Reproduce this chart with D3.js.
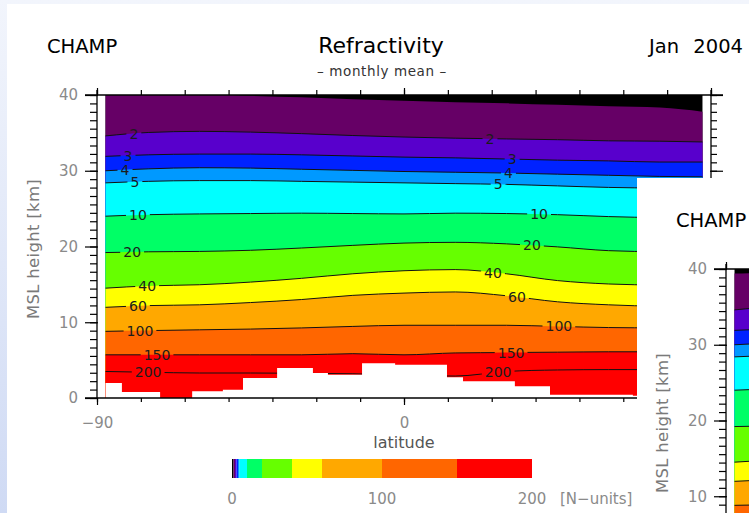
<!DOCTYPE html>
<html>
<head>
<meta charset="utf-8">
<script src="https://cdn.jsdelivr.net/npm/d3@7"></script>
<style>
  body { margin: 0; }
  svg { display: block; font-family: "DejaVu Sans", sans-serif; }
</style>
</head>
<body>
<div id="chart"></div>
<script>

// latitude grid of the contour heights
var latitudes = [-87.5, -75, -60, -45, -30, -15, 0, 15, 30, 45, 60, 75, 87.5];

// height [km] of each refractivity isoline (N-units) along the latitudes
var km1   = [40.6, 40.5, 40.2, 39.9, 39.7, 39.45, 39.25, 39.05, 38.9, 38.7, 38.5, 38.35, 37.8];
var km2   = [34.6, 35.05, 35.2, 35.1, 34.9, 34.65, 34.45, 34.3, 34.2, 34.1, 33.95, 33.9, 33.8];
var km3   = [31.9, 32.1, 32.2, 32.2, 32.1, 31.95, 31.8, 31.7, 31.55, 31.4, 31.3, 31.15, 31.15];
var km4   = [30.0, 30.25, 30.4, 30.35, 30.2, 30.05, 29.9, 29.8, 29.7, 29.55, 29.4, 29.25, 29.2];
var km5   = [28.4, 28.6, 28.7, 28.7, 28.6, 28.5, 28.4, 28.3, 28.2, 28.0, 27.8, 27.7, 27.6];
var km10  = [24.0, 24.2, 24.3, 24.35, 24.4, 24.35, 24.3, 24.4, 24.35, 24.2, 23.95, 23.8, 23.7];
var km20  = [19.2, 19.3, 19.35, 19.5, 19.8, 20.15, 20.45, 20.55, 20.35, 19.95, 19.45, 19.3, 19.2];
var km40  = [14.5, 14.8, 14.95, 15.3, 15.8, 16.4, 16.8, 16.95, 16.4, 15.5, 15.05, 14.9, 14.8];
var km60  = [11.97, 12.2, 12.3, 12.6, 13.0, 13.55, 13.85, 14.0, 13.5, 12.7, 12.3, 12.1, 12.0];
var km100 = [8.8, 8.9, 9.0, 9.1, 9.25, 9.45, 9.6, 9.6, 9.6, 9.45, 9.3, 9.25, 9.2];
var km150 = [5.7, 5.7, 5.7, 5.7, 5.7, 5.85, 5.7, 5.95, 6.0, 6.05, 6.1, 6.1, 6.1];
var km200 = [3.5, 3.4, 3.3, 3.3, 3.25, 3.2, 3.0, 2.9, 3.5, 3.7, 3.75, 3.75, 3.75];

// second (overlapping) figure, only its top isoline differs in the visible part
var km1B  = [39.4, 39.5, 39.6, 39.7, 39.6, 39.4, 39.2, 39.0, 38.8, 38.6, 38.4, 38.2, 37.8];

var levels     = [1, 2, 3, 4, 5, 10, 20, 40, 60, 100, 150, 200];
var labelLatS  = [null, -79.2, -80.9, -81.8, -78.9, -78, -79.7, -75.3, -78, -77.4, -72.4, -75];
var labelLatN  = [null, 25.2, 31.7, 30.6, 27.6, 39.6, 37.5, 26.1, 33.1, 45.4, 31.4, 27.6];

// colour classes (N-units)
var bandStops  = [0, 1, 2, 3, 4, 5, 10, 20, 40, 60, 100, 150, 200];
var bandColors = ["#000000", "#660066", "#5800cc", "#0022ff", "#0099ff", "#00ffff",
                  "#00ff66", "#66ff00", "#ffff00", "#ffa800", "#ff6600", "#ff0000"];

// lower edge of valid data (white below), stepwise
var surfaceLat = [-87.5, -82.7, -71.5, -62.1, -53.1, -47.2, -37.2, -26.7, -22.3, -12.3, -2.6, 12.6, 17.3, 32.5, 42.8, 67.1, 87.5];
var surfaceKm  = [1.98, 0.8, 0, 0.88, 1.1, 2.64, 3.96, 3.3, 3.08, 4.6, 4.4, 2.73, 2.2, 1.54, 0.44, 0.3, 0.3];

var yMajor = [0, 10, 20, 30, 40],
    yMajorB = [10, 20, 30, 40],
    xMajor = [-90, 0, 90],
    xLabels = ["\u221290", "0", ""],
    cbTicks = [0, 100, 200];

var width = 749, height = 513;

var x = d3.scaleLinear().domain([-90, 90]).range([97, 711]),
    y = d3.scaleLinear().domain([0, 40]).range([398, 95]),
    xc = d3.scaleLinear().domain([0, 200]).range([232, 532]);

var svg = d3.select("#chart").append("svg")
    .attr("width", width)
    .attr("height", height);

var defs = svg.append("defs");
var bg = defs.append("linearGradient")
    .attr("id", "bg")
    .attr("x1", 0).attr("y1", 0).attr("x2", 0).attr("y2", 1);
bg.append("stop").attr("offset", "0%").attr("stop-color", "#f2f5fc");
bg.append("stop").attr("offset", "100%").attr("stop-color", "#cfdaf4");

svg.append("rect")
    .attr("width", width)
    .attr("height", height)
    .attr("fill", "url(#bg)");

svg.append("rect")
    .attr("x", 7).attr("y", 4)
    .attr("width", width - 7)
    .attr("height", height - 4)
    .attr("fill", "#fff");

// full = false draws only what shows of the second figure (no off-screen texts)
function drawPanel(g, id, topKm, full) {

  var contours = levels.map(function(l, i) {
    var km = [topKm, km2, km3, km4, km5, km10, km20, km40, km60, km100, km150, km200][i];
    return {level: l, km: km, below: bandColors[i + 1] || bandColors[bandColors.length - 1],
            labels: (i === 0 || !full) ? [] : [labelLatS[i], labelLatN[i]]};
  });

  var area = function(km) {
    return d3.area()
      .curve(d3.curveMonotoneX)
      .x(function(d) { return x(d); })
      .y0(y(0))
      .y1(function(d, i) { return y(km[i]); })(latitudes);
  };
  var line = function(km) {
    return d3.line()
      .curve(d3.curveMonotoneX)
      .x(function(d) { return x(d); })
      .y(function(d, i) { return y(km[i]); })(latitudes);
  };

  g.append("clipPath")
      .attr("id", "clip" + id)
    .append("rect")
      .attr("x", x(-90)).attr("y", y(40))
      .attr("width", x(90) - x(-90))
      .attr("height", y(0) - y(40));

  var plot = g.append("g").attr("clip-path", "url(#clip" + id + ")");

  plot.append("rect")
      .attr("x", x(latitudes[0]))
      .attr("y", y(40))
      .attr("width", x(latitudes[latitudes.length - 1]) - x(latitudes[0]))
      .attr("height", y(0) - y(40))
      .attr("fill", bandColors[0]);

  plot.selectAll("path.band")
      .data(contours)
    .enter().append("path")
      .attr("class", "band")
      .attr("d", function(d) { return area(d.km); })
      .attr("fill", function(d) { return d.below; });

  // contour labels
  var labelData = [];
  contours.forEach(function(c) {
    c.labels.forEach(function(lat) {
      var interp = d3.scaleLinear().domain(latitudes).range(c.km);
      labelData.push({text: c.level, lat: lat, km: interp(lat)});
    });
  });

  var mask = g.append("mask").attr("id", "mask" + id);
  mask.append("rect")
      .attr("x", 0).attr("y", 0)
      .attr("width", 2000).attr("height", 2000)
      .attr("fill", "#fff");

  var lines = plot.append("g").attr("mask", "url(#mask" + id + ")");

  var labels = plot.selectAll("text.clabel")
      .data(labelData)
    .enter().append("text")
      .attr("class", "clabel")
      .attr("x", function(d) { return x(d.lat); })
      .attr("y", function(d) { return y(d.km); })
      .attr("dy", "0.36em")
      .attr("text-anchor", "middle")
      .attr("font-size", 14)
      .attr("fill", "#1c1c1c")
      .text(function(d) { return d.text; });

  labels.each(function() {
    var b = this.getBBox();
    mask.append("rect")
        .attr("x", b.x - 3).attr("y", b.y + 2)
        .attr("width", b.width + 6).attr("height", b.height - 4)
        .attr("fill", "#000");
  });

  lines.selectAll("path")
      .data(contours.slice(1))
    .enter().append("path")
      .attr("d", function(d) { return line(d.km); })
      .attr("fill", "none")
      .attr("stroke", "#111")
      .attr("stroke-width", 1);

  // surface / missing data mask
  plot.append("path")
      .attr("d", d3.area()
        .curve(d3.curveStepAfter)
        .x(function(d) { return x(d); })
        .y0(y(0) + 1)
        .y1(function(d, i) { return y(surfaceKm[i]); })(surfaceLat))
      .attr("fill", "#fff");

  // axes
  var yMinor = d3.range(0, 37).map(function(i) { return i * 10 / 9; })
      .filter(function(v) { return v <= 40.01; });
  var xMinor = d3.range(0, 15).map(function(i) { return -90 + i * 90 / 7; });

  var axes = g.append("g");

  axes.append("g")
      .attr("transform", "translate(" + x(-90) + ",0)")
      .call(d3.axisLeft(y).tickValues(yMinor).tickSize(7).tickSizeOuter(0).tickFormat(""));
  axes.append("g")
      .attr("transform", "translate(" + x(90) + ",0)")
      .call(d3.axisRight(y).tickValues(yMinor).tickSize(6).tickSizeOuter(0).tickFormat(""));
  axes.append("g")
      .attr("transform", "translate(0," + y(0) + ")")
      .call(d3.axisBottom(x).tickValues(xMinor).tickSize(4).tickSizeOuter(0).tickFormat(""));
  axes.append("g")
      .attr("transform", "translate(0," + y(40) + ")")
      .call(d3.axisTop(x).tickValues(xMinor).tickSize(5).tickSizeOuter(0).tickFormat(""));

  g.append("g")
      .attr("class", "y axis")
      .attr("transform", "translate(" + (x(-90) + 1) + ",0)")
      .call(d3.axisLeft(y).tickValues(full ? yMajor : yMajorB).tickSize(13).tickSizeOuter(0).tickPadding(7));
  g.append("g")
      .attr("transform", "translate(" + (x(90) - 1) + ",0)")
      .call(d3.axisRight(y).tickValues(yMajor).tickSize(13).tickSizeOuter(0).tickFormat(""));
  g.append("g")
      .attr("class", "x axis")
      .attr("transform", "translate(0," + y(0) + ")")
      .call(d3.axisBottom(x).tickValues(xMajor).tickSize(7).tickSizeOuter(0).tickPadding(12)
        .tickFormat(function(d, i) { return full ? xLabels[i] : ""; }));
  g.append("g")
      .attr("transform", "translate(0," + y(40) + ")")
      .call(d3.axisTop(x).tickValues(xMajor).tickSize(7).tickSizeOuter(0).tickFormat(""));

  g.selectAll(".domain").remove();
  g.selectAll(".tick line").attr("stroke", "#000").attr("stroke-width", 1.2);
  g.selectAll(".tick text").filter(function() { return this.textContent === ""; }).remove();

  g.append("line")
      .attr("x1", x(-90)).attr("x2", x(-90))
      .attr("y1", y(40) - 5).attr("y2", y(0))
      .attr("stroke", "#000").attr("stroke-width", 1.3);
  g.append("line")
      .attr("x1", x(90)).attr("x2", x(90))
      .attr("y1", y(40) - 5).attr("y2", y(0))
      .attr("stroke", "#000").attr("stroke-width", 1.3);
  g.append("line")
      .attr("x1", x(-90) - 12).attr("x2", x(90) + 12)
      .attr("y1", y(40)).attr("y2", y(40))
      .attr("stroke", "#000").attr("stroke-width", 1.3);
  g.append("line")
      .attr("x1", x(-90) - 12).attr("x2", x(90))
      .attr("y1", y(0)).attr("y2", y(0))
      .attr("stroke", "#000").attr("stroke-width", 1.3);

  g.selectAll(".axis text")
      .attr("font-family", "DejaVu Sans, sans-serif")
      .attr("font-size", 15)
      .attr("fill", "#8a8a8a");

  // titles
  g.append("text")
      .attr("x", 47).attr("y", 53)
      .attr("font-size", 19.5)
      .attr("fill", "#000")
      .text("CHAMP");
  g.append("text")
      .attr("transform", "translate(39,249) rotate(-90)")
      .attr("text-anchor", "middle")
      .attr("font-size", 16.5)
      .attr("letter-spacing", 0.3)
      .attr("fill", "#7a7a7a")
      .text("MSL height [km]");

  if (!full) return;

  g.append("text")
      .attr("x", 381).attr("y", 53)
      .attr("text-anchor", "middle")
      .attr("font-size", 22)
      .attr("fill", "#000")
      .text("Refractivity");
  g.append("text")
      .attr("x", 382).attr("y", 76)
      .attr("text-anchor", "middle")
      .attr("font-size", 13.5)
      .attr("letter-spacing", 0.6)
      .attr("fill", "#333")
      .text("\u2013 monthly mean \u2013");
  g.append("text")
      .attr("x", 743).attr("y", 53)
      .attr("text-anchor", "end")
      .attr("font-size", 19.5)
      .attr("word-spacing", 8)
      .attr("fill", "#000")
      .text("Jan 2004");

  g.append("text")
      .attr("x", x(0)).attr("y", 448)
      .attr("text-anchor", "middle")
      .attr("font-size", 16)
      .attr("fill", "#555")
      .text("latitude");

  // colour bar
  var segs = bandColors.map(function(c, i) { return {a: bandStops[i], b: bandStops[i + 1], c: c}; });
  g.selectAll("rect.cb")
      .data(segs)
    .enter().append("rect")
      .attr("class", "cb")
      .attr("x", function(d) { return xc(d.a); })
      .attr("width", function(d) { return xc(d.b) - xc(d.a); })
      .attr("y", 459)
      .attr("height", 19)
      .attr("fill", function(d) { return d.c; });

  g.selectAll("text.cbl")
      .data(cbTicks)
    .enter().append("text")
      .attr("class", "cbl")
      .attr("x", function(d) { return xc(d); })
      .attr("y", 504)
      .attr("text-anchor", "middle")
      .attr("font-size", 15)
      .attr("fill", "#8a8a8a")
      .text(function(d) { return d; });
  g.append("text")
      .attr("x", 560).attr("y", 504)
      .attr("font-size", 15)
      .attr("fill", "#8a8a8a")
      .text("[N\u2212units]");
}

drawPanel(svg.append("g"), "A", km1, true);

// overlapping second figure at the lower right
svg.append("rect")
    .attr("x", 637).attr("y", 178)
    .attr("width", width - 637)
    .attr("height", height - 178)
    .attr("fill", "#fff");
drawPanel(svg.append("g").attr("transform", "translate(629,174)"), "B", km1B, false);

</script>
</body>
</html>
